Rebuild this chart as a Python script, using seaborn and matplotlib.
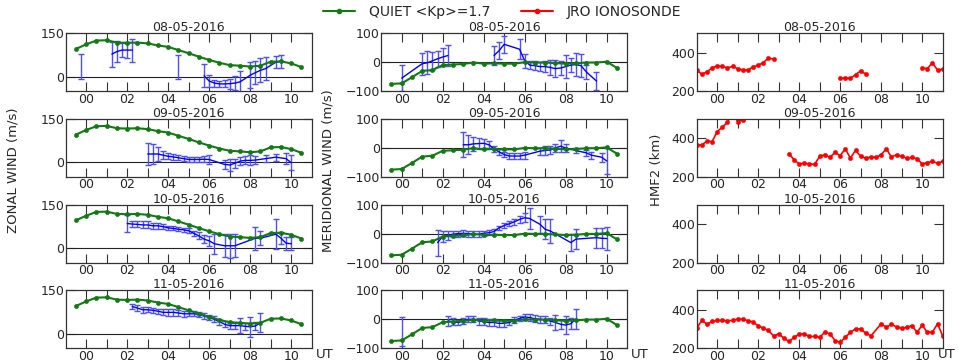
# =========================
# Libraries
# =========================

import numpy as np
import pandas as pd
import matplotlib
matplotlib.use("Agg")
import matplotlib.pyplot as plt
from matplotlib.lines import Line2D
import seaborn as sns

nan = np.nan

# =========================
# Data
# =========================

days = ["08-05-2016", "09-05-2016", "10-05-2016", "11-05-2016"]
hour_ticks = [0, 1, 2, 3, 4, 5, 6, 7, 8, 9, 10]
hour_labels = ["00", "", "02", "", "04", "", "06", "", "08", "", "10"]

# quiet reference curve (same for every day)
quiet_hours = [-0.5, 0.0, 0.5, 1.0, 1.5, 2.0, 2.5, 3.0, 3.5, 4.0, 4.5, 5.0,
               5.5, 6.0, 6.5, 7.0, 7.5, 8.0, 8.5, 9.0, 9.5, 10.0, 10.5]
quiet_zonal = [96, 112, 125, 126, 118, 117, 118, 115, 108, 103, 92, 81,
               69, 58, 48, 40, 38, 35, 38, 52, 53, 46, 33]
quiet_merid = [-75, -73, -52, -30, -27, -10, -8, -6, -1, -5, -4, -5,
               -5, 0, -1, -1, -3, -5, -4, -1, -1, 2, -20]

# FPI zonal wind (nan = gap)
zon1_h = [-0.25, 0.0, 1.25, 1.5, 1.75, 2.0, 2.25, 2.5, 4.5, 4.75, 5.75, 6.0, 6.25,
          6.5, 6.75, 7.0, 7.25, 7.5, 8.0, 8.25, 8.5, 8.75, 9.25, 9.5]
zon1_v = [35, nan, 78, 87, 92, 92, 92, nan, 34, nan, 3, -15, -22,
          -25, -25, -24, -22, -18, 5, 14, 22, 28, 50, 52]
zon1_e = [42, nan, 43, 37, 25, 27, 40, nan, 42, nan, 40, 20, 12,
          10, 12, 17, 25, 38, 45, 40, 42, 40, 20, 22]

zon2_h = [3.0, 3.25, 3.5, 3.75, 4.0, 4.25, 4.5, 4.75, 5.0, 5.25, 5.5, 5.75, 6.0,
          6.75, 7.0, 7.25, 7.5, 7.75, 8.0, 8.25, 8.75, 9.25, 9.75, 10.0]
zon2_v = [29, 29, 29, 25, 21, 19, 16, 13, 10, 10, 10, 11, 10,
          -7, -9, -3, 4, 7, 7, 8, 13, 18, 13, -1]
zon2_e = [38, 33, 25, 13, 11, 10, 9, 9, 8, 8, 9, 10, 17,
          15, 20, 15, 14, 14, 17, 15, 12, 12, 20, 27]

zon3_h = [2.0, 2.25, 2.5, 2.75, 3.0, 3.25, 3.5, 3.75, 4.0, 4.25, 4.5, 4.75, 5.0,
          5.25, 5.5, 5.75, 6.0, 6.25, 6.75, 7.0, 7.25, 8.25, 8.5, 9.25, 9.5, 9.75, 10.0]
zon3_v = [85, 83, 82, 80, 80, 77, 77, 74, 70, 68, 65, 63, 60,
          51, 42, 31, 25, 15, 8, 8, 8, 34, 34, 48, 34, 17, 15]
zon3_e = [28, 10, 10, 12, 12, 10, 10, 8, 8, 7, 7, 8, 8,
          8, 12, 15, 18, 35, 40, 42, 40, 40, 25, 52, 20, 22, 22]

zon4_h = [2.25, 2.5, 2.75, 3.0, 3.25, 3.5, 3.75, 4.0, 4.25, 4.5, 4.75, 5.0, 5.25,
          5.5, 5.75, 6.0, 6.25, 6.5, 6.75, 7.0, 7.25, 7.5, 7.75, 8.0, 8.25, 8.5]
zon4_v = [94, 89, 83, 83, 81, 78, 74, 74, 74, 72, 69, 69, 69,
          67, 61, 56, 50, 42, 33, 28, 28, 28, 26, 24, 27, 38]
zon4_e = [10, 10, 10, 9, 9, 9, 10, 12, 12, 10, 10, 9, 9,
          9, 10, 10, 10, 10, 10, 10, 10, 25, 12, 35, 14, 33]

# FPI meridional wind
mer1_h = [0.0, 1.0, 1.25, 1.5, 1.75, 2.0, 2.25, 2.5, 4.5, 4.75, 5.0, 5.75, 6.0,
          6.25, 6.5, 6.75, 7.0, 7.25, 7.5, 7.75, 8.0, 8.25, 8.5, 8.75, 9.0, 9.5]
mer1_v = [-55, -5, -2, 5, 12, 18, 23, nan, 23, 40, 62, 45, 5,
          -10, -12, -15, -15, -18, -22, -20, -15, -10, -8, -12, -33, -65]
mer1_e = [45, 38, 40, 32, 28, 30, 37, nan, 33, 30, 30, 35, 25,
          15, 15, 15, 20, 25, 30, 25, 40, 25, 40, 40, 25, 30]

mer2_h = [3.0, 3.25, 3.5, 3.75, 4.0, 4.25, 4.5, 4.75, 5.0, 5.25, 5.5, 5.75, 6.0,
          6.75, 7.0, 7.25, 7.5, 7.75, 8.0, 8.5, 9.0, 9.25, 9.75, 10.0]
mer2_v = [11, 11, 14, 15, 16, 11, -3, -14, -23, -28, -28, -28, -25,
          -11, -9, -7, 0, 6, 0, -9, -17, -25, -32, -45]
mer2_e = [43, 32, 25, 20, 15, 12, 10, 10, 10, 9, 10, 12, 12,
          12, 14, 15, 13, 20, 15, 10, 10, 12, 15, 45]

mer3_h = [1.75, 2.0, 2.25, 2.5, 2.75, 3.0, 3.25, 3.5, 3.75, 4.0, 4.25, 4.5, 4.75,
          5.0, 5.25, 5.5, 5.75, 6.0, 6.25, 6.75, 7.0, 7.25, 8.25, 8.5, 9.5, 9.75, 10.0]
mer3_v = [-31, -10, -6, -2, 0, 1, 0, -2, -2, 1, 3, 7, 20,
          28, 34, 41, 49, 55, 52, 32, 15, 9, -31, -19, -14, -16, -17]
mer3_e = [45, 20, 15, 10, 10, 10, 10, 10, 10, 8, 8, 8, 8,
          8, 8, 10, 12, 15, 35, 30, 35, 40, 30, 35, 35, 35, 40]

mer4_h = [0.0, 0.25, 2.25, 2.5, 2.75, 3.0, 3.25, 3.5, 3.75, 4.0, 4.25, 4.5, 4.75, 5.0,
          5.25, 5.5, 5.75, 6.0, 6.25, 6.5, 6.75, 7.0, 7.25, 7.5, 7.75, 8.0, 8.25, 8.5]
mer4_v = [-41, nan, -6, -8, -11, -6, 0, 0, -6, -8, -11, -11, -14, -14,
          -11, -3, 3, 8, 6, 2, 0, -2, -6, -11, -17, -20, -15, 0]
mer4_e = [50, nan, 18, 12, 10, 10, 10, 10, 12, 12, 12, 12, 12, 12,
          10, 10, 10, 12, 12, 12, 12, 12, 12, 25, 15, 32, 20, 35]

# JRO ionosonde hmF2 (km)
hmf1_h = [-1.0, -0.75, -0.5, -0.25, 0.0, 0.25, 0.5, 0.75, 1.0, 1.25, 1.5, 1.75, 2.0,
          2.25, 2.5, 2.75, 3.0, 6.0, 6.25, 6.5, 6.75, 7.0, 7.25, 7.5,
          10.0, 10.25, 10.5, 10.75, 11.0]
hmf1_v = [309, 288, 300, 321, 331, 328, 321, 328, 317, 309, 309, 326, 334,
          348, 372, 366, nan, 266, 269, 266, 286, 305, 288, nan,
          321, 317, 347, 309, 314]

hmf2_h = [-1.0, -0.75, -0.5, -0.25, 0.0, 0.25, 0.5, 0.75, 1.0, 1.25, 1.5,
          3.5, 3.75, 4.0, 4.25, 4.5, 4.75, 5.0, 5.25, 5.5, 5.75, 6.0, 6.25, 6.5,
          6.75, 7.0, 7.25, 7.5, 7.75, 8.0, 8.25, 8.5, 8.75, 9.0, 9.25, 9.5, 9.75,
          10.0, 10.25, 10.5, 10.75, 11.0]
hmf2_v = [365, 365, 386, 382, 435, 457, 483, 530, 487, 496, nan,
          320, 289, 267, 271, 267, 265, 306, 315, 301, 327, 310, 345, 297,
          338, 306, 297, 303, 301, 315, 345, 303, 315, 306, 297, 301, 294,
          267, 274, 280, 271, 280]

hmf3_h = []
hmf3_v = []

hmf4_h = [-1.0, -0.75, -0.5, -0.25, 0.0, 0.25, 0.5, 0.75, 1.0, 1.25, 1.5, 1.75,
          2.0, 2.25, 2.5, 2.75, 3.0, 3.25, 3.5, 3.75, 4.0, 4.25, 4.5, 4.75,
          5.0, 5.25, 5.5, 5.75, 6.0, 6.25, 6.5, 6.75, 7.0, 7.25, 7.5,
          8.0, 8.25, 8.5, 8.75, 9.0, 9.25, 9.5, 9.75, 10.0, 10.25, 10.5, 10.75, 11.0]
hmf4_v = [304, 344, 325, 339, 344, 344, 343, 344, 351, 351, 343, 336,
          317, 304, 292, 264, 275, 252, 235, 256, 273, 275, 261, 261,
          257, 283, 275, 240, 231, 257, 283, 301, 299, 278, 264,
          327, 308, 325, 310, 304, 308, 317, 283, 319, 283, 283, 327, 264]

zonal = [(zon1_h, zon1_v, zon1_e), (zon2_h, zon2_v, zon2_e),
         (zon3_h, zon3_v, zon3_e), (zon4_h, zon4_v, zon4_e)]
merid = [(mer1_h, mer1_v, mer1_e), (mer2_h, mer2_v, mer2_e),
         (mer3_h, mer3_v, mer3_e), (mer4_h, mer4_v, mer4_e)]
hmf = [(hmf1_h, hmf1_v), (hmf2_h, hmf2_v), (hmf3_h, hmf3_v), (hmf4_h, hmf4_v)]

# =========================
# Style
# =========================

sns.set_style("ticks", {"xtick.direction": "in", "ytick.direction": "in"})
plt.rcParams["font.family"] = ["DejaVu Sans", "sans-serif"]

quiet_color = "#117a11"
fpi_color = "blue"
err_color = "#4f4fff"
jro_color = "red"

fig, axes = plt.subplots(4, 3, figsize=(9.58, 3.62), dpi=100)
fig.subplots_adjust(left=0.0686, right=0.984, top=0.908, bottom=0.038,
                    wspace=0.2825, hspace=0.481)


def style_axis(ax, title, ylim, yticks):
    ax.set_xlim(-1, 11)
    ax.set_ylim(*ylim)
    ax.set_xticks(hour_ticks)
    ax.set_xticklabels(hour_labels)
    ax.set_yticks(yticks)
    ax.tick_params(top=True, right=True, direction="in", length=6.5, width=0.8,
                   labelsize=9, pad=1, color="#333333")
    ax.set_title(title, fontsize=9, pad=1.5)
    ax.set_xlabel("")
    ax.set_ylabel("")
    for spine in ax.spines.values():
        spine.set_linewidth(0.9)
        spine.set_color("#333333")


# =========================
# Wind panels
# =========================

for row in range(4):
    for col, (series, quiet, ylim, yticks) in enumerate([
            (zonal, quiet_zonal, (-50, 150), [0, 150]),
            (merid, quiet_merid, (-100, 100), [-100, 0, 100])]):
        ax = axes[row, col]
        ax.axhline(0, color="#222222", lw=0.8, zorder=1)
        h, v, e = series[row]
        ax.errorbar(h, v, yerr=e, fmt="-", color=fpi_color, lw=1, ecolor=err_color,
                    elinewidth=1, capsize=2, capthick=1, zorder=2)
        sns.lineplot(x=quiet_hours, y=quiet, ax=ax, color=quiet_color, marker="o",
                     markersize=3, markeredgewidth=0.4, markeredgecolor=quiet_color,
                     linewidth=1.5, legend=False, zorder=3)
        style_axis(ax, days[row], ylim, yticks)

# =========================
# HMF2 panels
# =========================

for row in range(4):
    ax = axes[row, 2]
    h, v = hmf[row]
    if len(h) > 0:
        df = pd.DataFrame({"hour": h, "hmf2": v})
        df["seg"] = df["hmf2"].isna().cumsum()
        df = df.dropna()
        sns.lineplot(data=df, x="hour", y="hmf2", units="seg", estimator=None,
                     color=jro_color, marker="o", markersize=3, markeredgewidth=0.4,
                     markeredgecolor=jro_color, linewidth=1.2, ax=ax, legend=False)
    style_axis(ax, days[row], (200, 500), [200, 400])

# =========================
# Labels and legend
# =========================

for col in range(2):
    axes[3, col].text(1.015, -0.1, "UT", transform=axes[3, col].transAxes,
                      ha="left", va="center", fontsize=9.5)
# last column: keep the label inside the figure edge
fig.text(0.998, 0.0195, "UT", ha="right", va="center", fontsize=9.5)

fig.text(0.0136, 0.53, "ZONAL WIND (m/s)", rotation=90, ha="center", va="center",
         fontsize=9.5)
fig.text(0.342, 0.53, "MERIDIONAL WIND (m/s)", rotation=90, ha="center",
         va="center", fontsize=9.5)
fig.text(0.685, 0.53, "HMF2 (km)", rotation=90, ha="center", va="center",
         fontsize=9.5)

handles = [Line2D([], [], color=quiet_color, marker="o", markersize=3, lw=1.5),
           Line2D([], [], color=jro_color, marker="o", markersize=3, lw=1.5)]
fig.legend(handles, ["QUIET <Kp>=1.7", "JRO IONOSONDE"], loc="center",
           bbox_to_anchor=(0.524, 0.967), ncol=2, frameon=False, fontsize=10,
           handlelength=2.3, handletextpad=1.0, columnspacing=2.2)

plt.savefig("out.png", dpi=100)
